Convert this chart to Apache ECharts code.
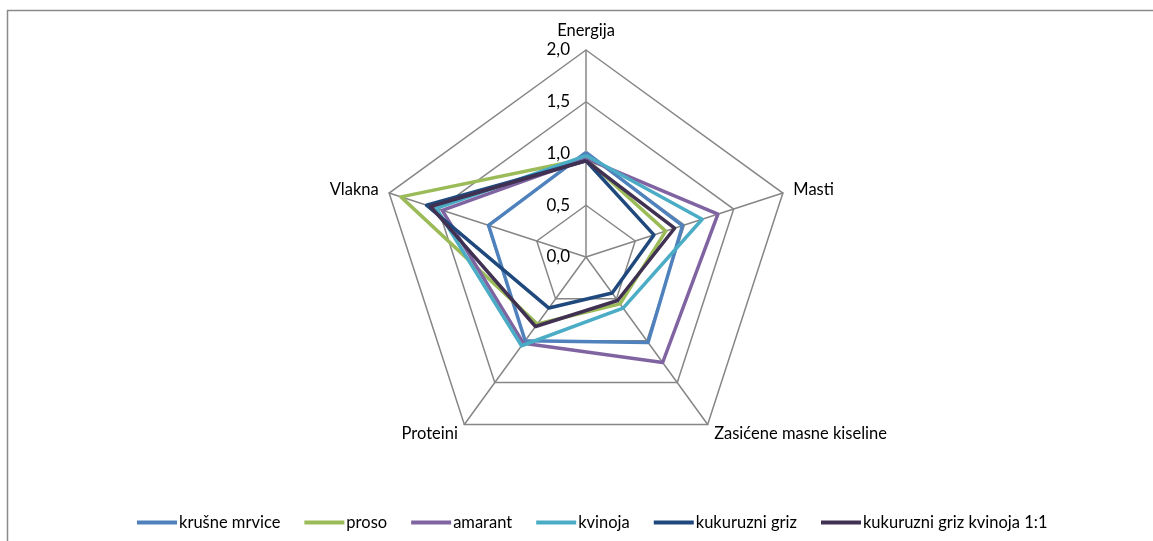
<!DOCTYPE html>
<html>
<head>
<meta charset="utf-8">
<script src="https://cdn.jsdelivr.net/npm/echarts@6/dist/echarts.min.js"></script>
<style>
html,body{margin:0;padding:0;background:#fff;}
#chart{width:1153px;height:541px;}
</style>
</head>
<body>
<div id="chart"></div>
<script>
// Indicators in ECharts (counter-clockwise) order starting at top
const categories = ['Energija', 'Vlakna', 'Proteini', 'Zasićene masne kiseline', 'Masti'];
const seriesNames = ['krušne mrvice', 'proso', 'amarant', 'kvinoja', 'kukuruzni griz', 'kukuruzni griz kvinoja 1:1'];
const krusneMrvice = [1.01, 0.99, 1.00, 1.02, 0.98];
const proso = [0.95, 1.88, 0.80, 0.56, 0.81];
const amarant = [0.95, 1.46, 1.03, 1.26, 1.34];
const kvinoja = [0.98, 1.52, 1.06, 0.61, 1.18];
const kukuruzniGriz = [0.93, 1.62, 0.61, 0.43, 0.69];
const kukuruzniGrizKvinoja = [0.93, 1.58, 0.83, 0.52, 0.90];
const tickLabels = ['0,0', '0,5', '1,0', '1,5', '2,0'];
const axisMax = 2;

const colors = ['#4F81BD', '#9BBB59', '#8064A2', '#4BACC6', '#1F497D', '#403152'];
const values = [krusneMrvice, proso, amarant, kvinoja, kukuruzniGriz, kukuruzniGrizKvinoja];
const FONT = 'Lato, "Liberation Sans", sans-serif';

const chart = echarts.init(document.getElementById('chart'), null, {renderer: 'canvas'});
const option = {
  animation: false,
  color: colors,
  textStyle: {fontFamily: FONT},
  graphic: [
    {type: 'line', shape: {x1: 7, y1: 10.5, x2: 1153, y2: 10.5}, style: {stroke: '#8a8a8a', lineWidth: 1.5}},
    {type: 'line', shape: {x1: 7.5, y1: 10, x2: 7.5, y2: 541}, style: {stroke: '#8a8a8a', lineWidth: 1.5}}
  ],
  legend: {
    data: seriesNames,
    left: 132,
    top: 509,
    icon: 'rect',
    itemWidth: 40,
    itemHeight: 4,
    itemGap: 24,
    textStyle: {fontFamily: FONT, fontSize: 16.5, color: '#000', padding: [0, 0, 0, -3]}
  },
  radar: {
    center: [586, 257],
    radius: 207,
    startAngle: 90,
    shape: 'polygon',
    splitNumber: 4,
    nameGap: 11,
    axisName: {color: '#000', fontSize: 16.5, fontFamily: FONT},
    axisLine: {lineStyle: {color: '#868686', width: 1.5}},
    splitLine: {lineStyle: {color: '#868686', width: 1.5}},
    splitArea: {show: false},
    axisTick: {show: false},
    axisLabel: {show: false},
    indicator: categories.map(function (c, i) {
      const ind = {name: c, min: 0, max: axisMax};
      if (i === 0) {
        ind.axisLabel = {
          show: true,
          fontSize: 17,
          fontFamily: FONT,
          color: '#000',
          margin: 16,
          formatter: function (v) {
            const idx = Math.round(v / (axisMax / 4));
            return tickLabels[idx];
          }
        };
      }
      return ind;
    })
  },
  series: [{
    type: 'radar',
    symbol: 'none',
    data: values.map(function (v, i) {
      return {name: seriesNames[i], value: v, lineStyle: {color: colors[i], width: 3.5}, itemStyle: {color: colors[i]}};
    })
  }]
};
chart.setOption(option);
</script>
</body>
</html>
